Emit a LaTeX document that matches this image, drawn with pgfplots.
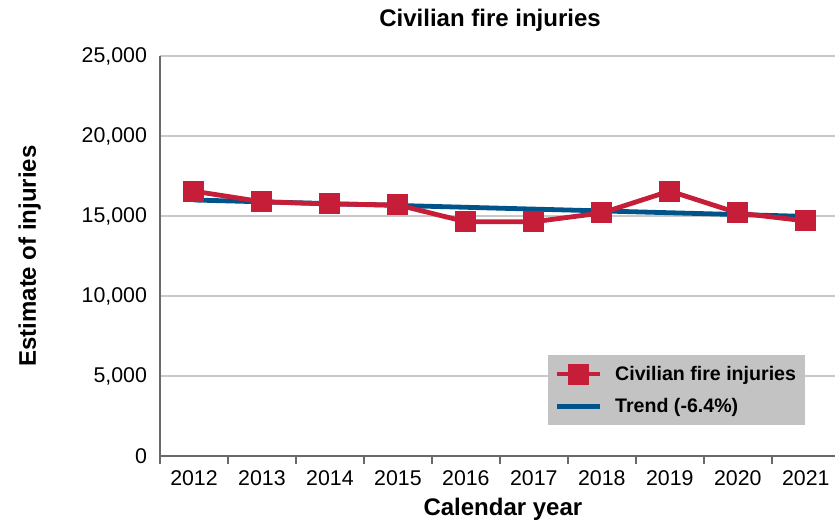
\documentclass[border=0pt]{standalone}
\usepackage{pgfplots}
\pgfplotsset{compat=1.18}
\usepackage{fontspec}
\setmainfont{Liberation Sans}
\definecolor{firered}{RGB}{198,30,56}
\definecolor{trendblue}{RGB}{0,84,138}
\definecolor{axgray}{RGB}{105,105,105}
\definecolor{gridgray}{RGB}{200,200,200}
\definecolor{leggray}{RGB}{195,195,195}
\begin{document}
\begin{tikzpicture}[x=1pt,y=1pt]
\useasboundingbox (0,0) rectangle (626.25,390.75);
\begin{axis}[
  at={(120pt,48.75pt)}, anchor=south west,
  scale only axis, width=506.25pt, height=300pt,
  xmin=-0.5, xmax=9.43, ymin=0, ymax=25000,
  axis x line=bottom, axis y line=left,
  axis line style={-, axgray, line width=2pt},
  xtick={0,...,9},
  xticklabels={2012,2013,2014,2015,2016,2017,2018,2019,2020,2021},
  major x tick style={draw=none},
  minor xtick={-0.5,0.5,...,8.5},
  minor x tick style={axgray, line width=1.5pt},
  minor tick length=6pt,
  tick align=outside,
  ytick={0,5000,...,25000},
  major y tick style={draw=none},
  ymajorgrids,
  major grid style={gridgray, line width=1.5pt},
  /pgf/number format/.cd, 1000 sep={,}, assume math mode=true,
  /pgfplots/.cd,
  scaled y ticks=false,
  tick label style={font=\fontsize{16}{19}\selectfont, text=black},
  xticklabel style={yshift=-3pt},
  yticklabel style={xshift=-2pt},
  title={Civilian fire injuries},
  title style={at={(axis description cs:0.489,1.07)}, anchor=center, font=\bfseries\fontsize{18}{21}\selectfont},
  xlabel={Calendar year},
  xlabel style={at={(axis description cs:0.508,-0.132)}, anchor=center, font=\bfseries\fontsize{18}{21}\selectfont},
  ylabel={Estimate of injuries},
  ylabel style={at={(axis description cs:-0.193,0.5)}, anchor=center, font=\bfseries\fontsize{18}{21}\selectfont},
  legend style={at={(axis description cs:0.575,0.2525)}, anchor=north west,
    fill=leggray, draw=none, font=\bfseries\fontsize{14.7}{17}\selectfont,
    inner xsep=5pt, inner ysep=6pt, row sep=8pt},
  legend cell align=left,
  legend image code/.code={\draw[mark repeat=2, mark phase=2, #1] plot coordinates {(7pt,0pt) (23pt,0pt) (39pt,0pt)};},
  clip=false,
]
\addplot[trendblue, line width=3.6pt, forget plot] coordinates {(0,16000) (9,14975)};
\addplot[firered, line width=3.6pt, mark=square*, mark size=7.5pt, mark options={line width=0pt}]
  coordinates {(0,16550) (1,15890) (2,15750) (3,15690) (4,14640) (5,14640) (6,15190) (7,16560) (8,15190) (9,14690)};
\addlegendentry{\hspace{7.5pt}Civilian fire injuries}
\addlegendimage{trendblue, line width=3.6pt}
\addlegendentry{\hspace{7.5pt}Trend (-6.4\%)}
\end{axis}
\end{tikzpicture}
\end{document}
